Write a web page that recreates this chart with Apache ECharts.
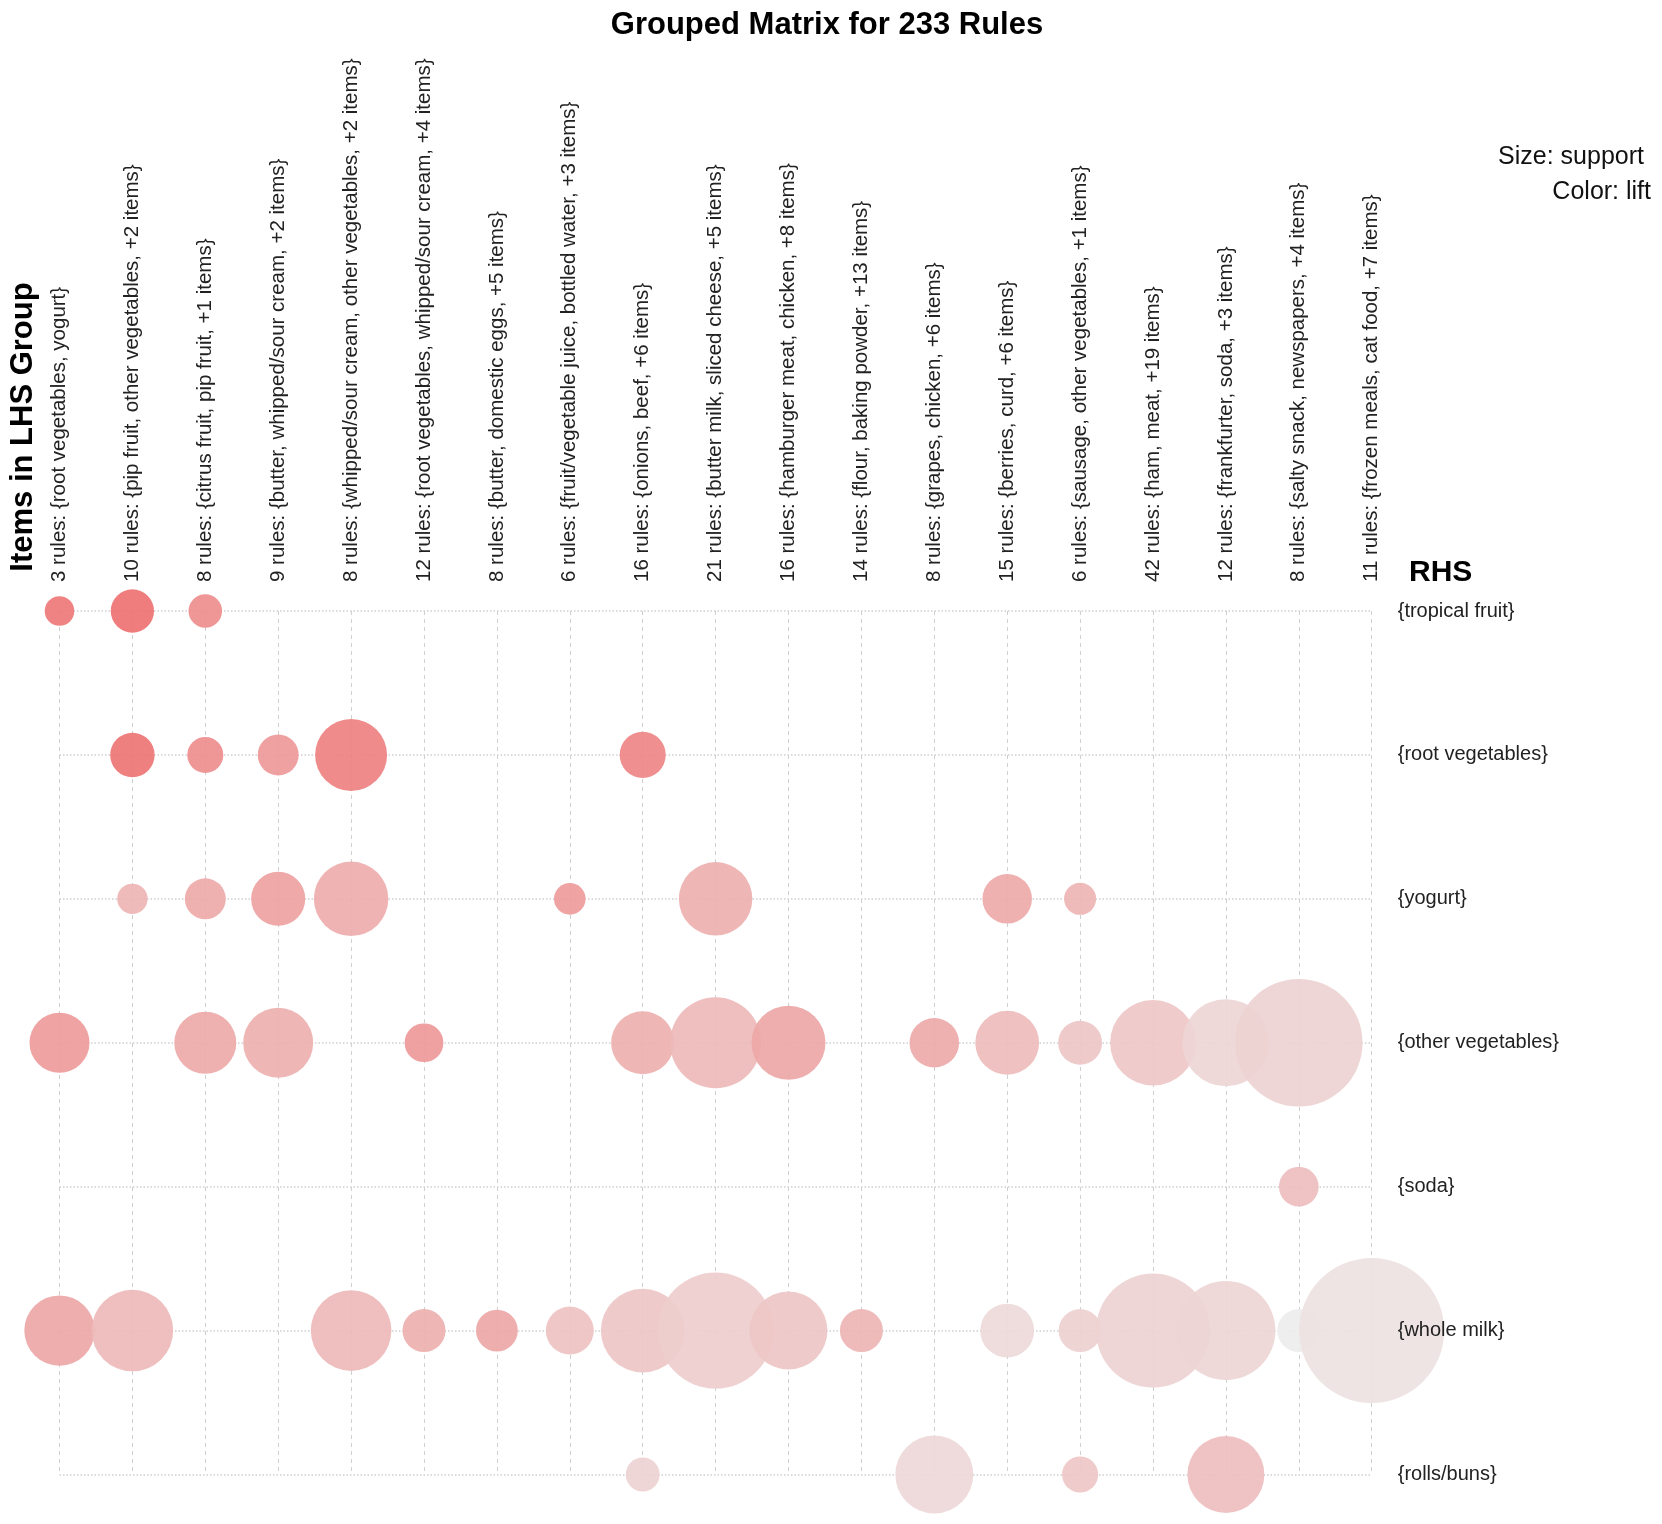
<!DOCTYPE html>
<html>
<head>
<meta charset="utf-8">
<title>Grouped Matrix for 233 Rules</title>
<script src="https://cdn.jsdelivr.net/npm/echarts@6/dist/echarts.min.js"></script>
<style>
  html, body { margin: 0; padding: 0; background: #fff; }
  #matrix-chart { width: 1662px; height: 1524px; }
</style>
</head>
<body>
<div id="matrix-chart"></div>
<script>
// LHS groups (columns) and RHS items (rows)
var lhsGroups = [
    '3 rules: {root vegetables, yogurt}',
    '10 rules: {pip fruit, other vegetables, +2 items}',
    '8 rules: {citrus fruit, pip fruit, +1 items}',
    '9 rules: {butter, whipped/sour cream, +2 items}',
    '8 rules: {whipped/sour cream, other vegetables, +2 items}',
    '12 rules: {root vegetables, whipped/sour cream, +4 items}',
    '8 rules: {butter, domestic eggs, +5 items}',
    '6 rules: {fruit/vegetable juice, bottled water, +3 items}',
    '16 rules: {onions, beef, +6 items}',
    '21 rules: {butter milk, sliced cheese, +5 items}',
    '16 rules: {hamburger meat, chicken, +8 items}',
    '14 rules: {flour, baking powder, +13 items}',
    '8 rules: {grapes, chicken, +6 items}',
    '15 rules: {berries, curd, +6 items}',
    '6 rules: {sausage, other vegetables, +1 items}',
    '42 rules: {ham, meat, +19 items}',
    '12 rules: {frankfurter, soda, +3 items}',
    '8 rules: {salty snack, newspapers, +4 items}',
    '11 rules: {frozen meals, cat food, +7 items}'
];
var rhsItems = ['{tropical fruit}', '{root vegetables}', '{yogurt}', '{other vegetables}', '{soda}', '{whole milk}', '{rolls/buns}'];

// one entry per bubble: column, row, support (%), lift
var cellCol = [
    0, 1, 2,
    1, 2, 3, 4, 8,
    1, 2, 3, 4, 7, 9, 13, 14,
    0, 2, 3, 5, 8, 9, 10, 12, 13, 14, 15, 16, 17,
    17,
    0, 1, 4, 5, 6, 7, 8, 9, 10, 11, 13, 14, 15, 16, 17, 18,
    8, 12, 14, 16
];
var cellRow = [
    0, 0, 0,
    1, 1, 1, 1, 1,
    2, 2, 2, 2, 2, 2, 2, 2,
    3, 3, 3, 3, 3, 3, 3, 3, 3, 3, 3, 3, 3,
    4,
    5, 5, 5, 5, 5, 5, 5, 5, 5, 5, 5, 5, 5, 5, 5, 5,
    6, 6, 6, 6
];
var cellSupport = [
    0.35, 0.75, 0.45,
    0.79, 0.52, 0.67, 2.07, 0.85,
    0.37, 0.67, 1.17, 2.22, 0.40, 2.16, 0.98, 0.41,
    1.44, 1.54, 1.96, 0.60, 1.59, 3.31, 2.19, 0.98, 1.63, 0.77, 2.94, 3.02, 6.50,
    0.63,
    1.98, 2.66, 2.60, 0.74, 0.70, 0.92, 2.80, 5.38, 2.43, 0.74, 1.16, 0.74, 5.20, 3.92, 0.74, 8.41,
    0.46, 2.43, 0.52, 2.37
];
var cellLift = [
    3.47, 3.61, 3.03,
    3.55, 3.03, 2.80, 3.30, 3.20,
    2.22, 2.45, 2.60, 2.39, 2.74, 2.30, 2.45, 2.22,
    2.74, 2.45, 2.30, 2.80, 2.30, 2.10, 2.50, 2.45, 2.04, 1.87, 1.81, 1.52, 1.58,
    2.00,
    2.50, 2.10, 2.10, 2.30, 2.50, 1.93, 1.87, 1.69, 1.87, 2.22, 1.44, 1.64, 1.58, 1.52, 1.02, 1.26,
    1.58, 1.46, 1.81, 2.00
];

var bubbles = [];
for (var i = 0; i < cellCol.length; i++) {
    bubbles.push([cellCol[i], cellRow[i], cellSupport[i], cellLift[i]]);
}

var font = '"Liberation Sans", Arial, sans-serif';
var myChart = echarts.init(document.getElementById('matrix-chart'));

var option = {
    backgroundColor: '#ffffff',
    animation: false,
    title: {
        text: 'Grouped Matrix for 233 Rules',
        left: 822,
        top: 5,
        textAlign: 'center',
        textStyle: { fontFamily: font, fontSize: 31, fontWeight: 'bold', color: '#000' }
    },
    graphic: [
        { type: 'text', x: 23, y: 427, rotation: Math.PI / 2,
          style: { text: 'Items in LHS Group', font: 'bold 31px ' + font, fill: '#000', align: 'center', verticalAlign: 'middle' } },
        { type: 'text', x: 1409, y: 573,
          style: { text: 'RHS', font: 'bold 30px ' + font, fill: '#000', align: 'left', verticalAlign: 'middle' } },
        { type: 'text', x: 1644, y: 157,
          style: { text: 'Size: support', font: '25px ' + font, fill: '#111', align: 'right', verticalAlign: 'middle' } },
        { type: 'text', x: 1651, y: 192,
          style: { text: 'Color: lift', font: '25px ' + font, fill: '#111', align: 'right', verticalAlign: 'middle' } }
    ],
    grid: { left: 59.5, right: 290.3, top: 611, bottom: 49.5 },
    xAxis: {
        type: 'category',
        position: 'top',
        data: lhsGroups,
        boundaryGap: false,
        z: 0,
        axisLine: { show: false },
        axisTick: { show: false },
        axisLabel: { rotate: -90, margin: 29, interval: 0, fontFamily: font, fontSize: 20.5, color: '#222' },
        splitLine: { show: true, lineStyle: { color: '#cfcfcf', width: 1, type: [4, 4] } }
    },
    yAxis: [{
        // labels, drawn above the bubbles
        type: 'category',
        position: 'right',
        inverse: true,
        data: rhsItems,
        boundaryGap: false,
        z: 10,
        axisLine: { show: false },
        axisTick: { show: false },
        axisLabel: { margin: 26, interval: 0, align: 'left', fontFamily: font, fontSize: 20, color: '#222' },
        splitLine: { show: false }
    }, {
        // row grid lines, drawn below the bubbles
        type: 'category',
        position: 'right',
        inverse: true,
        data: rhsItems,
        boundaryGap: false,
        z: 0,
        axisLine: { show: false },
        axisTick: { show: false },
        axisLabel: { show: false },
        splitLine: { show: true, lineStyle: { color: '#cfcfcf', width: 1.5, type: [1.5, 2] } }
    }],
    visualMap: {
        show: false,
        dimension: 3,
        min: 1,
        max: 6,
        inRange: { color: ['#eeeeee', '#ee0000'] }
    },
    series: [{
        type: 'scatter',
        yAxisIndex: 0,
        data: bubbles,
        symbolSize: function (val) { return 50 * Math.sqrt(val[2]); },
        itemStyle: { opacity: 0.92 }
    }]
};
myChart.setOption(option);
</script>
</body>
</html>
